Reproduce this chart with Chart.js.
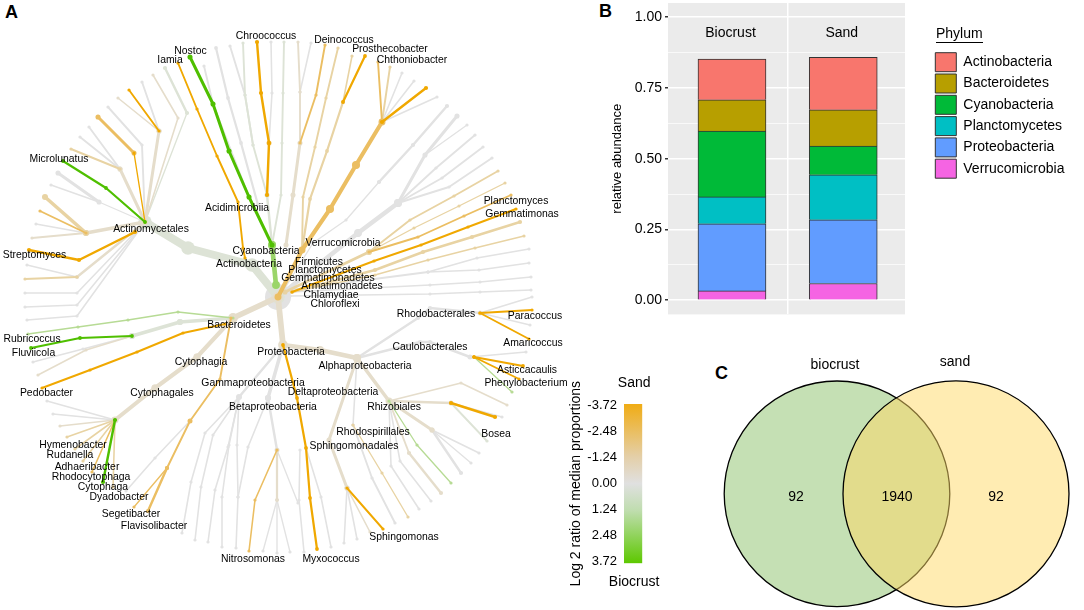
<!DOCTYPE html>
<html><head><meta charset="utf-8">
<script src="https://cdn.jsdelivr.net/npm/chart.js@4"></script>
<style>
html,body{margin:0;padding:0;background:#fff;width:1084px;height:610px;overflow:hidden;font-family:"Liberation Sans",Arial,sans-serif}
canvas{position:absolute;display:block}
.panel{position:absolute;font:bold 18px "Liberation Sans",Arial,sans-serif;color:#000;line-height:18px}
</style></head><body>
<div class="panel" style="left:5px;top:3px">A</div>
<div class="panel" style="left:599px;top:2px">B</div>
<div class="panel" style="left:715px;top:364px">C</div>
<canvas id="tree" width="590" height="600" style="left:0;top:0"></canvas>
<canvas id="bars" width="494" height="320" style="left:590px;top:0"></canvas>
<canvas id="scale" width="120" height="230" style="left:560px;top:370px"></canvas>
<canvas id="venn" width="384" height="270" style="left:700px;top:340px"></canvas>
<script>
const FONT='"Liberation Sans", Arial, sans-serif';
// ---- Panel B values
const sites=['Biocrust','Sand'];
const phyla=['Verrucomicrobia','Proteobacteria','Planctomycetes','Cyanobacteria','Bacteroidetes','Actinobacteria'];
const phylaColors=['#F564E3','#619CFF','#00BFC4','#00BA38','#B79F00','#F8766D'];
const verrucomicrobia=[0.033,0.059];
const proteobacteria=[0.237,0.225];
const planctomycetes=[0.095,0.159];
const cyanobacteria=[0.233,0.102];
const bacteroidetes=[0.110,0.128];
const actinobacteria=[0.144,0.185];
const abundance=[verrucomicrobia,proteobacteria,planctomycetes,cyanobacteria,bacteroidetes,actinobacteria];
// ---- Panel C values
const vennSets=['biocrust','sand'];
const vennCounts=[92,1940,92];
// ---- Colour scale ticks
const ratioTicks=[-3.72,-2.48,-1.24,0,1.24,2.48,3.72];
// ---- Panel A tree: [style, width, x,y, x,y, ...] in layout units
const treeStyles={g:'#E2E2E2',p:'#DDE3D6',t:'#E5DDCB',l:'#E8D3A3',y:'#EBBE62',o:'#F0A800',m:'#B7DB95',M:'#9BD56A',G:'#4FBF00'};
const styleRank={G:0,o:1,M:2,y:3,m:4,l:5,t:6,p:7,g:8};
const treeBranches=[
['p',7,278,297,252,265,188,248,145,222],
['o',1.5,245,258,243,248,238,202,217,156,197,109,178,63],
['M',4,276,285,272,245],
['G',2.5,272,245,249,197,229,151,213,104,190,57],
['p',2,272,245,267,195],
['o',2,267,195,269,143,261,93,257,42],
['p',1.5,267,195,253,145,245,95,243,43],
['p',1.5,272,245,281,195,282,143,283,93,284,42],
['g',1.2,269,143,272,93,271,42],
['g',1.5,253,145,245,95,230,46],
['g',1.8,258,205,241,143,228,98,216,48],
['g',1.5,249,197,213,104,204,66],
['p',1,145,222,187,113],['p',2,187,113,165,68],
['t',1.2,145,222,178,118,153,75],
['t',2.5,145,222,159,131],
['o',1.5,159,131,129,90],['t',1.2,159,131,118,98],['g',1.5,159,131,142,82],
['g',1.5,145,222,142,145,108,107],
['o',1,145,222,134,153],['y',2.5,134,153,98,117],
['t',2.5,145,222,120,169],
['l',1.5,120,169,71,149],['g',1.5,120,169,80,137],['g',1.5,120,169,89,127],
['G',1.8,145,222,106,188,63,161],
['g',1,145,222,99,202],['g',2.5,99,202,58,173],['g',1,99,202,51,185],
['t',3,145,222,86,233],
['l',3,86,233,45,197],['y',1.5,86,233,40,211],['g',1.2,86,233,36,224],['t',1.5,86,233,32,238],
['o',2,135,232,79,260,29,250],
['t',2,145,222,77,277],['l',1.5,77,277,25,279],['g',1,77,277,27,265],
['g',1.2,145,222,77,293,25,293],['g',1.2,145,222,77,305,25,307],['g',1.2,145,222,77,316,27,320],
['y',3.5,278,297,302,250,330,209,356,165,382,122],
['y',1.5,382,122,378,62],['l',1.5,382,122,390,67],['g',1.2,382,122,402,73],['g',1.2,382,122,414,81],['o',2,382,122,426,88],['g',1.2,382,122,437,97],
['l',1.5,302,250,303,197,315,147,326,98,338,48],
['l',1.8,302,250,310,199,327,151,343,102],['l',1.2,343,102,352,56],['o',1.8,343,102,365,56],
['t',2.5,286,245,293,195,300,143],
['y',1.5,300,143,316,95,325,45],['t',1.5,300,143,300,92,298,42],['g',1.2,300,92,311,43],
['g',1,285,288,313,243,346,220,379,182],['g',2,379,182,413,145,447,106],
['g',4,278,297,358,233,398,203],
['g',2.5,398,203,425,155,457,116],['g',1,425,155,467,125],
['g',1.5,398,203,436,168,475,135],['g',1.5,398,203,442,178,483,147],['g',1.5,398,203,449,187,492,158],
['l',2.5,285,292,369,252],
['l',1.5,369,252,410,220,454,196,498,171],['l',1,369,252,414,228,459,206,505,183],['y',1.5,369,252,418,237,464,216,511,195],
['o',1.5,292,292,374,261,421,245,468,227,516,209],
['l',2,292,292,375,270,423,252,472,237,520,222],
['l',1,292,292,375,275,428,260,475,248,524,236],
['g',1.5,290,290,428,272],['g',1.2,428,272,477,258,529,249],['g',1.2,428,272,479,270,529,263],
['g',1.2,290,292,430,285,480,282,531,277],['g',1.2,290,296,430,294,480,292,531,290],
['t',5,278,297,283,345],
['t',4,283,345,320,350,357,358],
['g',2,357,358,418,318,430,308,480,313],
['g',1.2,480,313,532,297],['o',1.5,480,313,532,310],['g',1,480,313,530,325],['o',1.5,480,313,529,339],
['g',2,357,358,420,342,430,342,470,357],
['g',1,470,357,526,352],['o',1.8,474,357,523,366],['o',1.5,474,357,519,379],['m',1,474,357,512,392],
['t',3,357,358,389,401],
['t',1.2,389,401,461,383,507,405],
['t',2,389,401,451,403],['o',2,451,403,495,417],['p',1.5,451,403,487,441],['g',1,451,403,502,417],
['t',2.5,389,401,432,430],['g',1.2,432,430,479,453],['g',1,432,430,471,463],['g',2,432,430,461,473],
['m',1,389,401,417,445,451,483],
['t',1.5,389,401,409,453],['t',2,409,453,441,493],
['g',1.2,389,401,400,461,431,501],['g',1.2,389,401,391,466,419,509],
['g',1.2,357,358,353,425],['l',1,353,425,382,473,408,517],['g',1.5,353,425,372,478,395,523],
['t',2.5,357,358,329,440,347,488],
['o',1.5,347,488,383,529],['g',1.2,347,488,357,539],['g',1.2,347,488,344,543],['t',1.2,347,488,370,532],
['o',1.8,283,345,297,398,306,448,310,498,317,549],
['g',1.2,306,448,321,497,331,547],['g',1.2,300,450,299,500,304,552],
['g',2,283,345,239,397],['g',3,283,345,268,398],
['g',2,268,398,277,450],
['t',1.8,277,450,277,500],['g',1,277,500,263,551],['g',1,277,500,277,553],['g',1,277,500,290,552],
['y',1.2,277,450,255,500,249,551],['g',1,277,450,298,503],
['g',1.2,268,398,248,447,238,497,236,548],
['g',1.2,239,397,237,445,238,497],
['g',1.2,239,397,229,445,222,497,222,547],
['g',1.2,239,397,228,447,215,490,208,542],
['g',1.2,239,397,213,435,201,487,195,540],
['g',1.2,239,397,205,433,191,482,182,533],
['t',5,278,297,233,318],
['p',3,233,318,180,322,132,336],
['G',1.8,132,336,80,338,31,348],['t',1.2,132,336,86,350,38,375],['g',1.2,132,336,83,349,33,362],
['m',1.2,233,318,178,312,128,320,78,327,28,334],
['o',1.5,225,324,183,333,137,352,90,370,42,388],
['y',1.5,231,318,220,379,190,421,167,468],['y',1,167,468,134,507],['y',2,167,468,148,511],
['g',1.2,190,421,155,458,126,491],
['t',3.5,233,318,197,357,155,388,115,420],
['g',1.2,115,420,47,401],['g',1,115,420,53,414],['t',1.2,115,420,60,426],['l',1.2,115,420,67,437],
['l',1.2,115,420,75,449],['l',1.2,115,420,83,461],['y',1.2,115,420,92,472],['G',2,115,420,103,482],['l',1.2,115,420,113,487]
];
// [style, radius, x, y]
const treeNodes=[['g',13,278,297],['p',6,188,248],['p',5,145,222],['M',4,272,245],['y',4,330,209],['y',4,356,165],['y',3,382,122],
['g',4,398,203],['g',3.5,358,233],['t',4,233,318],['t',4,283,345],['t',4,357,358],['t',3.5,389,401],['t',3,115,420],['t',3.5,197,357],['t',3.5,155,388],
['g',3,132,336],['g',3,180,322],['g',3,239,397],['g',3,268,398],['g',2.5,277,450],['l',3,369,252],['t',2.5,86,233],['t',2.5,120,169],['t',2.5,159,131],['t',2.5,347,488],
['y',2.5,190,421],['y',2,167,468],['y',2.5,269,143],['p',2.5,267,195],['g',2.5,480,313],['g',2.5,470,357],['t',2.5,451,403],['t',2.5,432,430]];
// [text, x, y]
const treeLabels=[['Chroococcus',266,36],['Nostoc',190.5,51],['Iamia',170,60.5],['Deinococcus',344,40],['Prosthecobacter',390,49],['Chthoniobacter',412,60],
['Microlunatus',59,159],['Actinomycetales',151,229],['Streptomyces',34.5,255.5],['Acidimicrobiia',237,208],['Cyanobacteria',266,251],['Actinobacteria',249,264],
['Verrucomicrobia',343,243],['Firmicutes',319,262],['Planctomycetes',325,270],['Gemmatimonadetes',328,278.5],['Armatimonadetes',342,286.5],['Chlamydiae',331,295],['Chloroflexi',335,304],
['Planctomyces',516,201],['Gemmatimonas',522,214],['Rhodobacterales',436,314],['Paracoccus',535,316],['Amaricoccus',533,343],['Caulobacterales',430,347],['Asticcacaulis',527,370],['Phenylobacterium',526,383],
['Alphaproteobacteria',365,366],['Rhizobiales',394,407],['Deltaproteobacteria',333,392],['Proteobacteria',291,352],['Gammaproteobacteria',253,383],['Betaproteobacteria',273,407],
['Rhodospirillales',373,432],['Sphingomonadales',354,446],['Sphingomonas',404,537],['Bosea',496,434],['Bacteroidetes',239,325],['Rubricoccus',32,339],['Fluviicola',33.5,353],
['Cytophagia',201,362],['Cytophagales',162,393],['Pedobacter',46.5,393],['Hymenobacter',73,445],['Rudanella',70,455],['Adhaeribacter',87,467],['Rhodocytophaga',91,477],['Cytophaga',103,487],['Dyadobacter',119,497],
['Segetibacter',131,514],['Flavisolibacter',154,526],['Nitrosomonas',253,559],['Myxococcus',331,559]];

Chart.defaults.animation=false;
Chart.defaults.responsive=false;
Chart.defaults.font.family=FONT;
Chart.defaults.color='#000';
const noPlugins={legend:{display:false},tooltip:{enabled:false}};

// ---- Panel A
const treeSets=treeBranches.map(b=>{
  const pts=[];for(let i=2;i<b.length;i+=2)pts.push({x:b[i],y:b[i+1]});
  const c=treeStyles[b[0]];
  const w=b[1]*1.1+0.25;
  return {type:'line',data:pts,borderColor:c,backgroundColor:c,borderWidth:w,tension:0,fill:false,clip:false,
    pointRadius:Math.max(1.6,w*0.85),pointBorderWidth:0,borderCapStyle:'round',borderJoinStyle:'round',order:styleRank[b[0]]+1};
});
treeNodes.forEach(n=>treeSets.push({type:'scatter',data:[{x:n[2],y:n[3]}],backgroundColor:treeStyles[n[0]],pointRadius:n[1],pointBorderWidth:0,clip:false,order:styleRank[n[0]]+1}));
new Chart(document.getElementById('tree'),{type:'scatter',data:{datasets:treeSets},
  options:{layout:{padding:0,autoPadding:false},plugins:noPlugins,
    scales:{x:{type:'linear',display:false,min:0,max:590},y:{type:'linear',display:false,min:0,max:600,reverse:true}}},
  plugins:[{id:'treeText',afterDatasetsDraw(c){const g=c.ctx,x=c.scales.x,y=c.scales.y;g.save();g.font='10.4px '+FONT;g.fillStyle='#000';g.textAlign='center';g.textBaseline='middle';
    treeLabels.forEach(l=>g.fillText(l[0],x.getPixelForValue(l[1]),y.getPixelForValue(l[2])));g.restore();}}]
});

// ---- Panel B
const barSets=phyla.map((p,i)=>({label:p,data:abundance[i].map((v,k)=>({x:k+1,y:v})),backgroundColor:phylaColors[i],borderColor:'#333',borderWidth:1,barThickness:68}));
new Chart(document.getElementById('bars'),{type:'bar',data:{datasets:barSets},
  options:{layout:{autoPadding:false,padding:{top:3,bottom:5.6,left:0,right:74}},
    plugins:{tooltip:{enabled:false},
      legend:{position:'right',align:'start',reverse:true,
        title:{display:true,text:'Phylum',position:'start',font:{size:14},padding:{top:24.3,bottom:6.3}},
        labels:{boxWidth:21,boxHeight:19,padding:2.3,font:{size:14},color:'#000'}}},
    scales:{
      x:{type:'linear',stacked:true,offset:false,min:0.425,max:2.555,
        afterBuildTicks(a){a.ticks=[{value:1.5}];},afterFit(a){a.height=0;a.paddingLeft=0;a.paddingRight=0;},
        ticks:{display:false},border:{display:false},grid:{offset:false,color:'#fff',lineWidth:1.5,drawTicks:false}},
      y:{type:'linear',stacked:true,min:-0.05,max:1.05,
        afterBuildTicks(a){const t=[];for(let k=0;k<=8;k++)t.push({value:k*0.125});a.ticks=t;},
        afterFit(a){a.width=78;a.paddingTop=0;a.paddingBottom=0;},
        title:{display:true,text:'relative abundance',font:{size:13},padding:{top:20,bottom:0}},
        border:{display:false},
        ticks:{font:{size:14},color:'#000',padding:3,autoSkip:false,callback(v){const m=Math.round(v*8);return m%2===0?v.toFixed(2):'';}},
        grid:{tickLength:3,tickColor(c){return Math.round(c.tick.value*8)%2===0?'#333':'rgba(0,0,0,0)';},color:'#fff',lineWidth(c){return Math.round(c.tick.value*8)%2===0?1.5:0.7;}}
      }}},
  plugins:[{id:'panelBack',beforeDraw(c){const a=c.chartArea,g=c.ctx;g.save();g.fillStyle='#EBEBEB';g.fillRect(a.left,a.top,a.right-a.left,a.bottom-a.top);g.restore();},
    afterLayout(c){const l=c.legend;l.left=343;l.right=494;
      if(!l._shifted){const key=['drawTitle','_drawTitle'].find(k=>typeof l[k]==='function');
        if(key){const f=l[key].bind(l);l[key]=()=>{c.ctx.save();c.ctx.translate(3,0);f();c.ctx.restore();};}l._shifted=true;}},
    afterDraw(c){const g=c.ctx,x=c.scales.x,y=c.scales.y;g.save();g.font='14px '+FONT;g.fillStyle='#000';g.textAlign='center';g.textBaseline='middle';
      sites.forEach((s,i)=>g.fillText(s,x.getPixelForValue(i+1)-1.5,y.getPixelForValue(0.945)));
      g.strokeStyle='#000';g.lineWidth=1;g.beginPath();g.moveTo(346,42.5);g.lineTo(393,42.5);g.stroke();g.restore();}}]
});

// ---- Colour scale
new Chart(document.getElementById('scale'),{type:'bar',
  data:{labels:['ratio'],datasets:[{data:[[-3.79,3.79]],borderWidth:0,barPercentage:1,categoryPercentage:1,
    backgroundColor(c){const a=c.chart.chartArea;if(!a)return '#ddd';const g=c.chart.ctx.createLinearGradient(0,a.top,0,a.bottom);
      g.addColorStop(0,'#F0AC14');g.addColorStop(0.33,'#E4CFA8');g.addColorStop(0.5,'#E0E0E0');g.addColorStop(0.67,'#BFDDAE');g.addColorStop(1,'#5DC800');return g;}}]},
  options:{layout:{autoPadding:false,padding:{top:34,bottom:36.7,left:0,right:37.7}},plugins:noPlugins,
    scales:{x:{display:false},
      y:{type:'linear',min:-3.79,max:3.79,reverse:true,border:{display:false},grid:{display:false,drawTicks:false},
        afterBuildTicks(a){a.ticks=ratioTicks.map(v=>({value:v}));},afterFit(a){a.width=64;},
        title:{display:true,text:'Log 2 ratio of median proportions',font:{size:14},padding:{top:8,bottom:0}},
        ticks:{font:{size:13},color:'#000',padding:7,autoSkip:false,callback:v=>v.toFixed(2)}}}},
  plugins:[{id:'ends',afterDraw(c){const g=c.ctx,a=c.chartArea,m=(a.left+a.right)/2;g.save();g.font='14px '+FONT;g.fillStyle='#000';g.textAlign='center';g.textBaseline='middle';
    g.fillText('Sand',m+1,a.top-21);g.fillText('Biocrust',m+1,a.bottom+19);g.restore();}}]
});

// ---- Panel C
new Chart(document.getElementById('venn'),{type:'bubble',
  data:{datasets:[{data:[{x:137,y:153.8,r:112.8},{x:256,y:153.8,r:113}],backgroundColor:['rgba(139,193,105,.5)','rgba(255,217,101,.5)'],borderColor:'#000',borderWidth:1.3,clip:false}]},
  options:{layout:{padding:0,autoPadding:false},plugins:noPlugins,scales:{x:{type:'linear',display:false,min:0,max:384},y:{type:'linear',display:false,min:0,max:270,reverse:true}}},
  plugins:[{id:'vennText',afterDatasetsDraw(c){const g=c.ctx,x=c.scales.x,y=c.scales.y;g.save();g.font='14px '+FONT;g.fillStyle='#000';g.textAlign='center';g.textBaseline='middle';
    const px=[96,197,296];vennCounts.forEach((n,i)=>g.fillText(String(n),x.getPixelForValue(px[i]),y.getPixelForValue(156.7)));
    g.fillText(vennSets[0],x.getPixelForValue(135),y.getPixelForValue(25));g.fillText(vennSets[1],x.getPixelForValue(255),y.getPixelForValue(22));g.restore();}}]
});
</script></body></html>
